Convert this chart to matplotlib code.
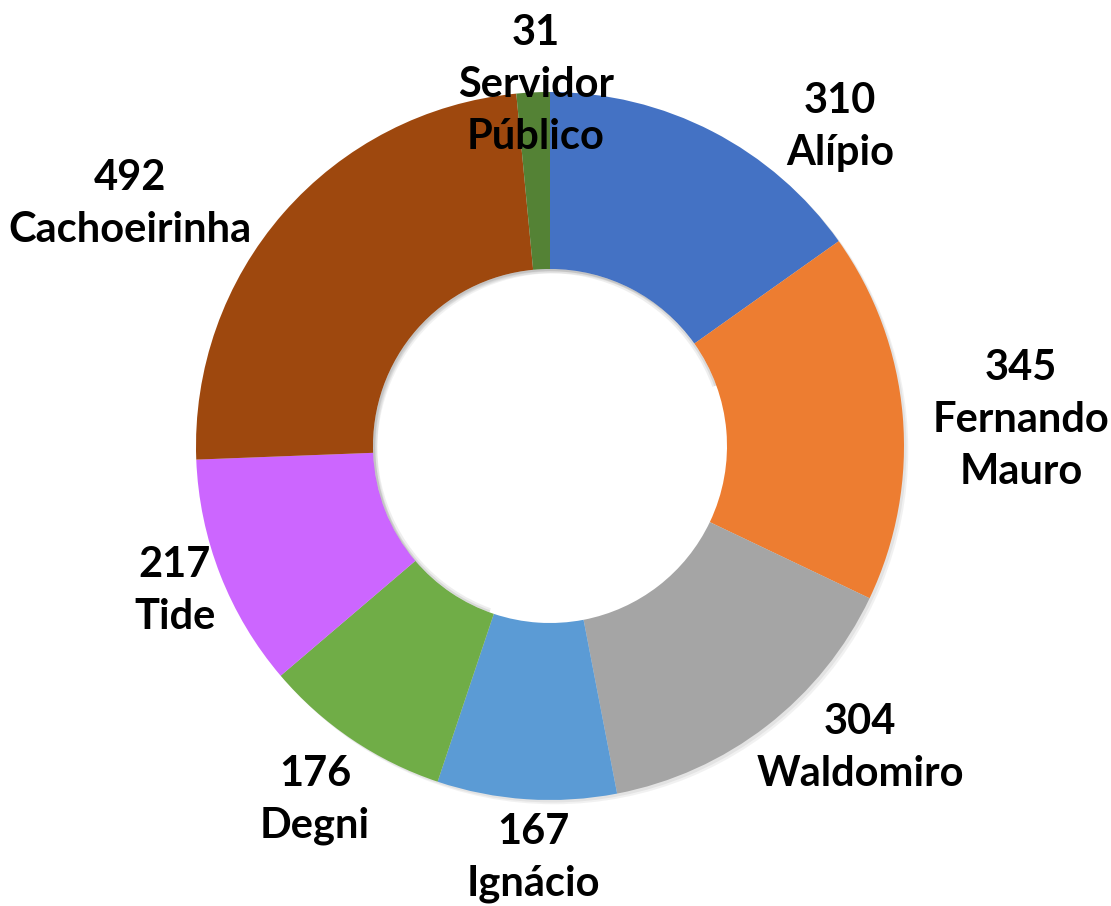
import matplotlib
matplotlib.use("Agg")
import matplotlib.pyplot as plt
from matplotlib.patches import Wedge

names = ["Alípio", "Fernando\nMauro", "Waldomiro", "Ignácio", "Degni", "Tide", "Cachoeirinha", "Servidor\nPúblico"]
values = [310, 345, 304, 167, 176, 217, 492, 31]
colors = ["#4472C4", "#ED7D31", "#A5A5A5", "#5B9BD5", "#70AD47", "#CC66FF", "#9E480E", "#548235"]
label_pos = [(0.82, 0.90), (1.33, 0.073), (0.876, -0.853), (-0.048, -1.164),
             (-0.664, -1.0), (-1.06, -0.41), (-1.186, 0.684), (-0.04, 1.02)]

W, H = 1111, 906
R = 354.0
cx, cy = 550.0, 446.0
fig = plt.figure(figsize=(W / 100, H / 100), dpi=100)
ax = fig.add_axes([0, 0, 1, 1])

# subtle shadow
for k, a in [(0.012, 0.10), (0.007, 0.12)]:
    ax.add_patch(Wedge((k, -k), 1.0, 0, 360, width=0.5, facecolor="#7f7f7f", alpha=a, lw=0))

ax.pie(values, colors=colors, startangle=90, counterclock=False, radius=1.0,
       wedgeprops=dict(width=0.5, linewidth=0), center=(0, 0), frame=True)
ax.set_xlim(-cx / R, (W - cx) / R)
ax.set_ylim(-(H - cy) / R, cy / R)
ax.set_aspect("auto")
ax.axis("off")

# inner shadow of hole (top-left)
for k, a in [(0.012, 0.10), (0.006, 0.14)]:
    ax.add_patch(Wedge((0, 0), 0.5, 20, 250, width=k, facecolor="#606060", alpha=a, lw=0))

for n, v, (x, y) in zip(names, values, label_pos):
    ax.text(x, y, f"{v}\n{n}", ha="center", va="center", fontsize=30,
            fontweight="bold", family="Lato", linespacing=1.45, color="black")

fig.savefig("out.png", dpi=100)
